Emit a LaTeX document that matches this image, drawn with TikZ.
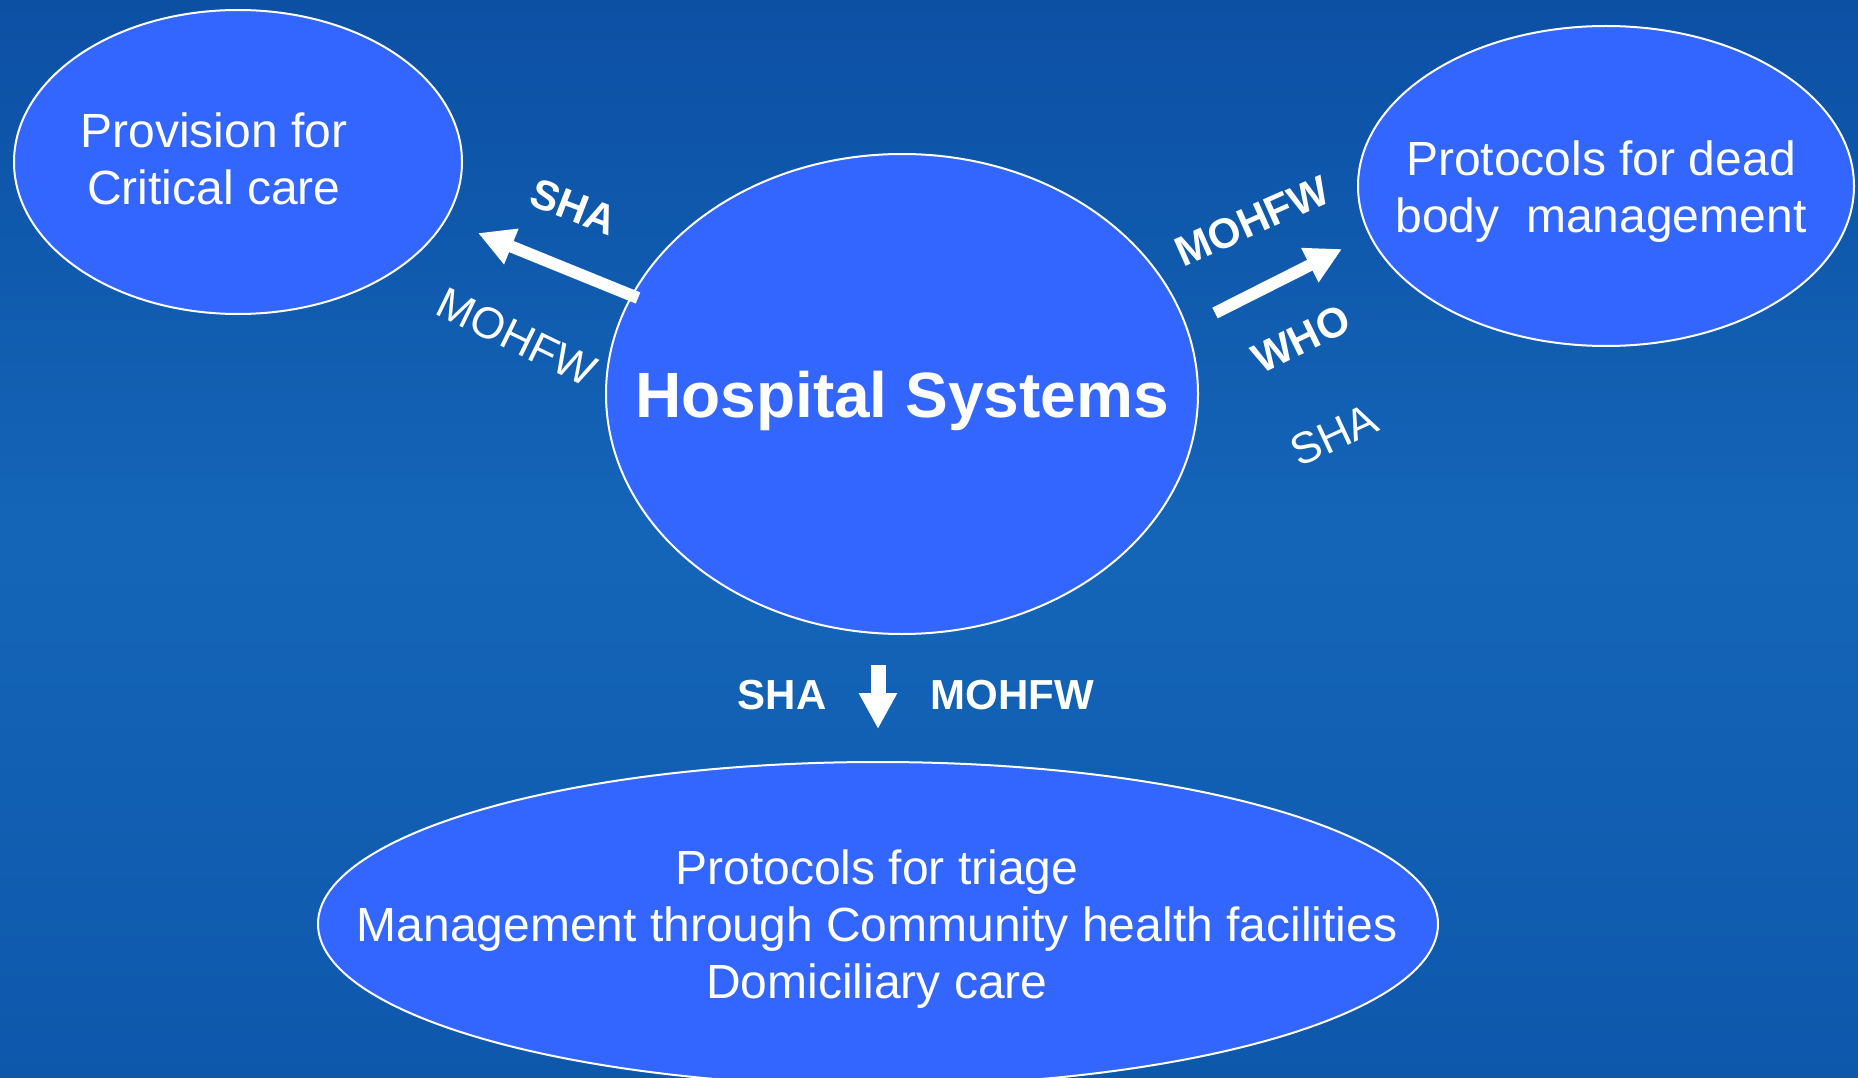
\documentclass[tikz,border=0pt]{standalone}
\usepackage{fontspec}
\setmainfont{Liberation Sans}
\usetikzlibrary{shapes.geometric,arrows.meta}
\definecolor{bgtop}{HTML}{0C50A4}
\definecolor{bgmid}{HTML}{1465B8}
\definecolor{bgbot}{HTML}{0E58AC}
\definecolor{ellblue}{HTML}{3366FF}
\tikzset{
  bubble/.style={ellipse, draw=white, line width=2pt, fill=ellblue, inner sep=0pt},
  bigtext/.style={text=white, align=center, font=\fontsize{48}{57}\selectfont},
  titletext/.style={text=white, font=\bfseries\fontsize{64}{70}\selectfont},
  boldlab/.style={text=white, font=\bfseries\fontsize{42}{48}\selectfont},
  plainlab/.style={text=white, font=\fontsize{44}{50}\selectfont},
  blockarrow/.style={white, line width=12pt, -{Triangle[width=36pt,length=36pt]}},
  downarrow/.style={white, line width=15pt, -{Triangle[width=36pt,length=36pt]}}
}
\begin{document}
\begin{tikzpicture}[x=1pt,y=-1pt]
\useasboundingbox (0,0) rectangle (1858,1078);
\clip (0,0) rectangle (1858,1078);
\shade[top color=bgtop, bottom color=bgbot, middle color=bgmid] (0,0) rectangle (1858,1078);

% bubbles
\node[bubble, minimum width=448pt, minimum height=304pt] (crit) at (238,162) {};
\node[bubble, minimum width=592pt, minimum height=480pt] (hs) at (902,394) {};
\node[bubble, minimum width=496pt, minimum height=320pt] (dead) at (1606,186) {};
\node[bubble, minimum width=1120pt, minimum height=324pt] (tri) at (878,924) {};

% texts
\node[bigtext] (critT) at (214,159) {Provision for\\Critical care};
\node[titletext] (hsT) at (902,401) {Hospital Systems};
\node[bigtext] (deadT) at (1601,192) {Protocols for dead\\body\ \ management};
\node[bigtext] (triT) at (877,929) {Protocols for triage\\Management through Community health facilities\\Domiciliary care};

% arrows
\coordinate (la1) at (638,298);
\coordinate (la2) at (478,233);
\draw[blockarrow] (la1) -- (la2);
\coordinate (ra1) at (1215,313);
\coordinate (ra2) at (1342,249);
\draw[blockarrow] (ra1) -- (ra2);
\coordinate (da1) at (878,665);
\coordinate (da2) at (878,729);
\draw[downarrow] (da1) -- (da2);

% labels
\node[boldlab, rotate=-21] (lsha) at (574,207) {SHA};
\node[plainlab, rotate=-26] (lmoh) at (517,337) {MOHFW};
\node[boldlab, rotate=24] (rmoh) at (1252,221) {MOHFW};
\node[boldlab, rotate=26] (rwho) at (1301,339) {WHO};
\node[plainlab, rotate=25] (rsha) at (1334,435) {SHA};
\node[boldlab] (dsha) at (782,695) {SHA};
\node[boldlab] (dmoh) at (1012,695) {MOHFW};
\end{tikzpicture}
\end{document}
